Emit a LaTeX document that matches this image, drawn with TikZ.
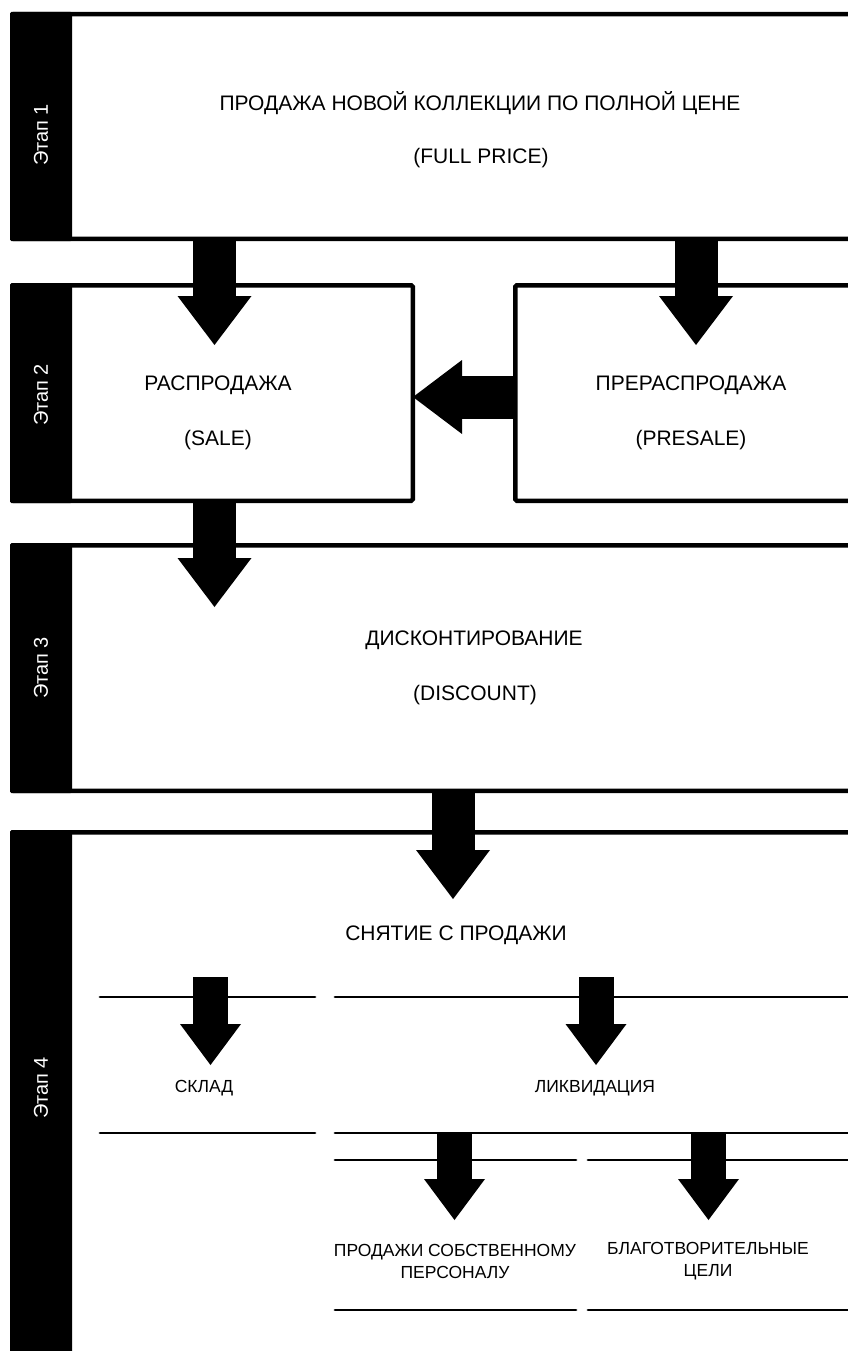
\documentclass[tikz,border=0pt]{standalone}
\usepackage{fontspec}
\setmainfont{Liberation Sans}
\usetikzlibrary{arrows.meta}
\begin{document}
\begin{tikzpicture}[x=1pt,y=-1pt,
  frame/.style={draw=black,line width=4.5pt,rounded corners=1.5pt},
  bar/.style={fill=black,rounded corners=1.5pt},
  thinline/.style={draw=black,line width=2.8pt,line cap=round},
  bigarr/.style={line width=43pt,-{Triangle[length=49pt,width=74pt,line width=0pt]}},
  smallarr/.style={line width=35pt,-{Triangle[length=41pt,width=61pt,line width=0pt]}},
  lbl/.style={font=\fontsize{21}{25}\selectfont,inner sep=0pt,anchor=center},
  slbl/.style={font=\fontsize{17.5}{22}\selectfont,inner sep=0pt,anchor=center,align=center},
  stg/.style={font=\fontsize{20}{24}\selectfont,text=white,rotate=90,inner sep=0pt}]
\useasboundingbox (0,0) rectangle (848,1351);
\clip (0,0) rectangle (848,1351);
% stage frames
\draw[frame] (12.25,14.25) rectangle (880,238.75);
\fill[bar] (10,12) rectangle (72,241);
\draw[frame] (12.25,285.25) rectangle (412.75,500.75);
\fill[bar] (10,283) rectangle (72,503);
\draw[frame] (515.25,285.25) rectangle (880,500.75);
\draw[frame] (12.25,545.25) rectangle (880,790.75);
\fill[bar] (10,543) rectangle (72,793);
\draw[frame] (12.25,832.25) rectangle (880,1400);
\fill[bar] (10,830) rectangle (72,1400);
% stage labels
\node[stg] (e1) at (41,135) {Этап 1};
\node[stg] (e2) at (41,395) {Этап 2};
\node[stg] (e3) at (41,668) {Этап 3};
\node[stg] (e4) at (41,1088) {Этап 4};
% texts
\node[lbl] (full) at (480,103) {ПРОДАЖА НОВОЙ КОЛЛЕКЦИИ ПО ПОЛНОЙ ЦЕНЕ};
\node[lbl] (fullen) at (481,158) {(FULL PRICE)};
\node[lbl] (sale) at (218,385) {РАСПРОДАЖА};
\node[lbl] (saleen) at (218,440) {(SALE)};
\node[lbl] (pre) at (691,385) {ПРЕРАСПРОДАЖА};
\node[lbl] (preen) at (691,440) {(PRESALE)};
\node[lbl] (disc) at (474,640) {ДИСКОНТИРОВАНИЕ};
\node[lbl] (discen) at (475,695) {(DISCOUNT)};
\node[lbl] (off) at (456,935) {СНЯТИЕ С ПРОДАЖИ};
\node[slbl] (sklad) at (204,1088) {СКЛАД};
\node[slbl] (liq) at (595,1088) {ЛИКВИДАЦИЯ};
\node[slbl] (staff) at (455,1261) {ПРОДАЖИ СОБСТВЕННОМУ\\ПЕРСОНАЛУ};
\node[slbl] (charity) at (708,1261) {БЛАГОТВОРИТЕЛЬНЫЕ\\ЦЕЛИ};
% stage 4 lines
\draw[thinline] (100,997) -- (315,997);
\draw[thinline] (335,997) -- (860,997);
\draw[thinline] (100,1133) -- (315,1133);
\draw[thinline] (335,1133) -- (860,1133);
\draw[thinline] (335,1160) -- (576,1160);
\draw[thinline] (588,1160) -- (860,1160);
\draw[thinline] (335,1310) -- (576,1310);
\draw[thinline] (588,1310) -- (860,1310);
% arrow coordinates
\coordinate (a1s) at (214.5,241); \coordinate (a1t) at (214.5,345);
\coordinate (a2s) at (696,241);   \coordinate (a2t) at (696,345);
\coordinate (a3s) at (515,397);   \coordinate (a3t) at (413,397);
\coordinate (a4s) at (214.5,503); \coordinate (a4t) at (214.5,607);
\coordinate (a5s) at (453,793);   \coordinate (a5t) at (453,899);
\coordinate (a6s) at (210.5,977); \coordinate (a6t) at (210.5,1065);
\coordinate (a7s) at (596,977);   \coordinate (a7t) at (596,1065);
\coordinate (a8s) at (454.5,1133); \coordinate (a8t) at (454.5,1220);
\coordinate (a9s) at (708.5,1133); \coordinate (a9t) at (708.5,1220);
\draw[bigarr] (a1s) -- (a1t);
\draw[bigarr] (a2s) -- (a2t);
\draw[bigarr] (a3s) -- (a3t);
\draw[bigarr] (a4s) -- (a4t);
\draw[bigarr] (a5s) -- (a5t);
\draw[smallarr] (a6s) -- (a6t);
\draw[smallarr] (a7s) -- (a7t);
\draw[smallarr] (a8s) -- (a8t);
\draw[smallarr] (a9s) -- (a9t);
\end{tikzpicture}
\end{document}
